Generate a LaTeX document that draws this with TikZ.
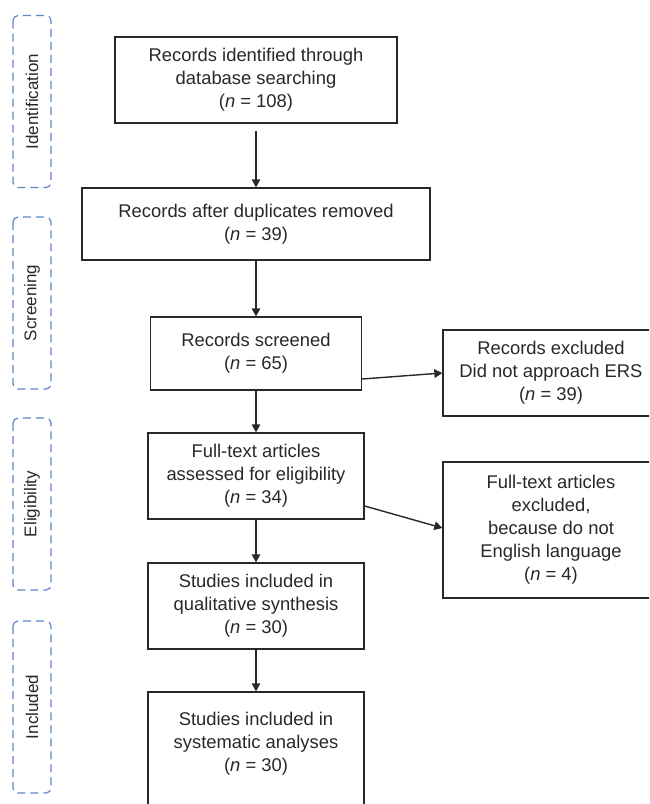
\documentclass[tikz,border=0pt]{standalone}
\usepackage{fontspec}
\setmainfont{Liberation Sans}
\usetikzlibrary{arrows.meta}
\definecolor{sideblue}{RGB}{95,132,200}
\definecolor{ink}{RGB}{40,40,40}
\begin{document}
\begin{tikzpicture}[x=1pt,y=-1pt,
  flowbox/.style={draw=ink,line width=1.3pt,rectangle,align=center,text=ink,
    inner sep=0pt,font=\fontsize{18.4}{23}\selectfont},
  sidebox/.style={draw=sideblue,line width=1.2pt,dash pattern=on 8pt off 5pt,
    rounded corners=5pt,rectangle,rotate=90,minimum width=172pt,minimum height=38pt,
    inner sep=0pt,text=ink,font=\fontsize{17}{20}\selectfont},
  flowarrow/.style={draw=ink,line width=1.4pt,-{Triangle[length=8pt,width=8.5pt]}}]
\useasboundingbox (0,0) rectangle (649,804);
\clip (0,0) rectangle (649,804);
% side labels
\node[sidebox] (lid) at (32,101.5) {Identification};
\node[sidebox] (lsc) at (32,303) {Screening};
\node[sidebox] (lel) at (32,504) {Eligibility};
\node[sidebox] (lin) at (32,707) {Included};
% main boxes
\node[flowbox,minimum width=282pt,minimum height=86pt] (b1) at (256,80)
  {Records identified through\\database searching\\(\textit{n} = 108)};
\node[flowbox,minimum width=348pt,minimum height=72pt] (b2) at (256,224)
  {Records after duplicates removed\\(\textit{n} = 39)};
\node[flowbox,minimum width=211pt,minimum height=73pt] (b3) at (256,353.5)
  {Records screened\\(\textit{n} = 65)};
\node[flowbox,minimum width=216pt,minimum height=86pt] (b4) at (256,476)
  {Full-text articles\\assessed for eligibility\\(\textit{n} = 34)};
\node[flowbox,minimum width=216pt,minimum height=86pt] (b5) at (256,606)
  {Studies included in\\qualitative synthesis\\(\textit{n} = 30)};
\node[flowbox,minimum width=216pt,minimum height=120pt] (b6) at (256,752) {};
\node[text=ink,align=center,inner sep=0pt,font=\fontsize{18.4}{23}\selectfont] (t6) at (256,744)
  {Studies included in\\systematic analyses\\(\textit{n} = 30)};
% exclusion boxes
\node[flowbox,minimum width=216pt,minimum height=86pt] (e1) at (551,373)
  {Records excluded\\Did not approach ERS\\(\textit{n} = 39)};
\node[flowbox,minimum width=216pt,minimum height=136pt] (e2) at (551,530)
  {Full-text articles\\excluded,\\because do not\\English language\\(\textit{n} = 4)};
% arrows
\draw[flowarrow,shorten <=7pt] (b1.south) -- (b2.north);
\draw[flowarrow] (b2.south) -- (b3.north);
\draw[flowarrow] (b3.south) -- (b4.north);
\draw[flowarrow] (b4.south) -- (b5.north);
\draw[flowarrow] (b5.south) -- (b6.north);
\draw[flowarrow] ([yshift=-25.5pt]b3.east) -- (e1.west);
\draw[flowarrow] ([yshift=-30pt]b4.east) -- ([yshift=2pt]e2.west);
\end{tikzpicture}
\end{document}
